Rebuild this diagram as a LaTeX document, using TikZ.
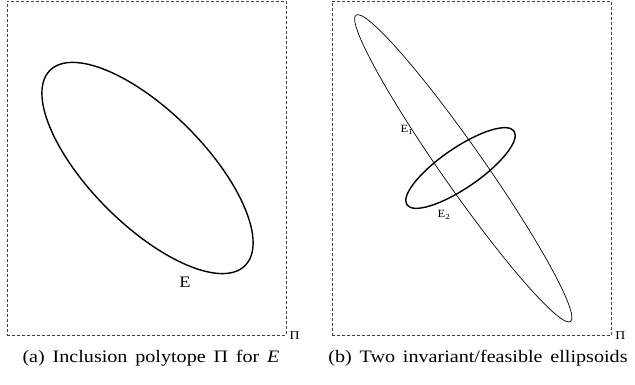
\documentclass[tikz,border=0pt]{standalone}
\usepackage{fontspec}
\setmainfont[FakeStretch=1.15]{Liberation Serif}
\newfontfamily\capfont[FakeStretch=1.15,WordSpace=1.55]{Liberation Serif}
\usetikzlibrary{positioning}
\usetikzlibrary{shapes.geometric}
\tikzset{>=latex}
\tikzstyle{poly} = [rectangle, draw=black!75, line width=0.7pt, dash pattern=on 3pt off 2pt, inner sep=0pt, minimum height=334pt]
\tikzstyle{ell} = [ellipse, draw=black, inner sep=0pt]
\tikzstyle{lab} = [inner sep=0pt, font=\fontsize{11}{13}\selectfont]
\tikzstyle{pilab} = [inner sep=0pt, font=\fontsize{12}{14}\selectfont]
\tikzstyle{captext} = [inner sep=0pt, font=\capfont\fontsize{17.5}{20}\selectfont]

\begin{document}
\begin{tikzpicture}[x=1pt, y=1pt]
\useasboundingbox (0, 0) rectangle (635, 385);
\node [poly, minimum width=279pt] (polyA) at (146.5, 217) {};
\node [poly, minimum width=279.7pt] (polyB) at (471.85, 217) {};
\node [pilab, right=3pt of polyA.south east] (piA) {Π};
\node [pilab, right=3pt of polyB.south east] (piB) {Π};

\node [ell, line width=1.4pt, minimum width=276pt, minimum height=114pt, rotate=-45] (E) at (147.5, 217) {};
\node [inner sep=0pt, font=\fontsize{16}{18}\selectfont] (labE) at (185, 103) {E};

\node [ell, line width=0.7pt, minimum width=374pt, minimum height=42pt, rotate=-55] (E1) at (463.3, 216.7) {};
\node [ell, line width=1.4pt, minimum width=130pt, minimum height=40pt, rotate=34.5] (E2) at (460.5, 217) {};
\node [lab] (labE1) at (407, 255) {E\textsubscript{1}};
\node [lab] (labE2) at (444, 170) {E\textsubscript{2}};

\node [captext] (capA) at (151, 27) {(a) Inclusion polytope Π for \textit{E}};
\node [captext] (capB) at (478, 27) {(b) Two invariant/feasible ellipsoids};
\end{tikzpicture}
\end{document}
